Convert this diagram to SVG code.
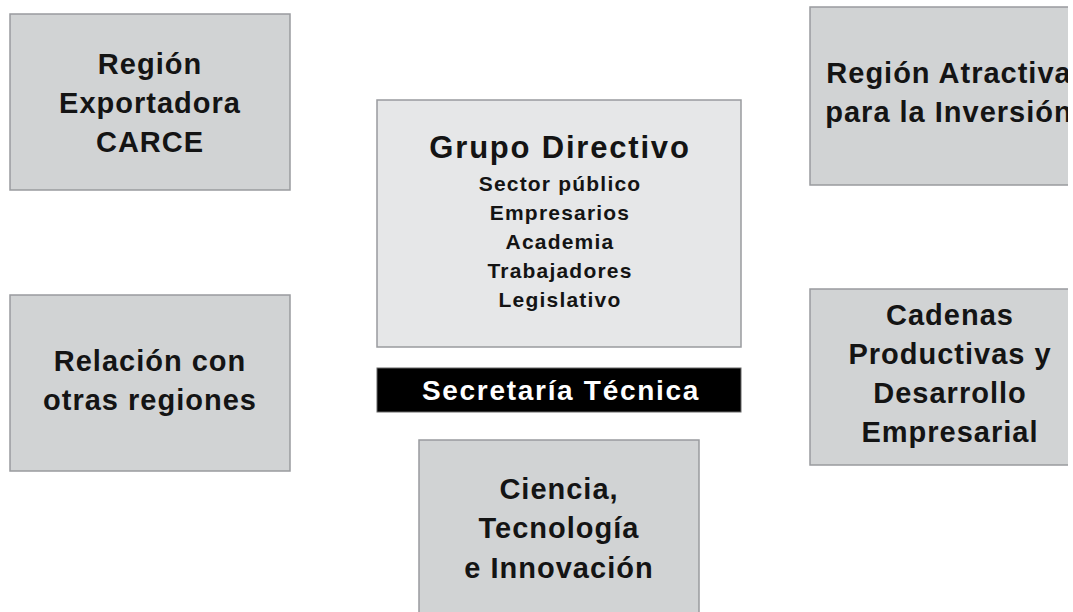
<svg xmlns="http://www.w3.org/2000/svg" width="1073" height="612" viewBox="0 0 1073 612">
<style>
.box{fill:#d1d3d4;stroke:#999b9e;stroke-width:1.5}
.boxl{fill:#e6e7e8;stroke:#999b9e;stroke-width:1.5}
.t{font-family:"Liberation Sans",Arial,sans-serif;font-weight:bold;fill:#141414;text-anchor:middle}
.l{font-size:29px;letter-spacing:1px}
.h{font-size:31px;letter-spacing:1.8px}
.s{font-size:21px;letter-spacing:1.2px}
.w{font-size:28px;letter-spacing:1.7px;fill:#ffffff}
</style>
<defs>
<clipPath id="cut"><rect x="0" y="0" width="1068" height="612"/></clipPath>
</defs>
<rect width="1073" height="612" fill="#ffffff"/>
<g id="connectors"/>
<g id="region-exportadora">
<rect class="box" x="10" y="14" width="280" height="176"/>
<text class="t l" x="150" y="74">Región</text>
<text class="t l" x="150" y="113">Exportadora</text>
<text class="t l" x="150" y="152">CARCE</text>
</g>
<g id="grupo-directivo">
<rect class="boxl" x="377" y="100" width="364" height="247"/>
<text class="t h" x="560" y="158">Grupo Directivo</text>
<text class="t s" x="560" y="191">Sector público</text>
<text class="t s" x="560" y="220">Empresarios</text>
<text class="t s" x="560" y="249">Academia</text>
<text class="t s" x="560" y="278">Trabajadores</text>
<text class="t s" x="560" y="307">Legislativo</text>
</g>
<g id="secretaria-tecnica">
<rect x="377" y="368" width="364" height="44" fill="#000000" stroke="#666" stroke-width="1"/>
<text class="t w" x="561" y="400">Secretaría Técnica</text>
</g>
<g id="region-atractiva" clip-path="url(#cut)">
<rect class="box" x="810" y="7" width="280" height="178"/>
<text class="t l" x="949" y="83">Región Atractiva</text>
<text class="t l" x="949" y="122">para la Inversión</text>
</g>
<g id="relacion-regiones">
<rect class="box" x="10" y="295" width="280" height="176"/>
<text class="t l" x="150" y="371">Relación con</text>
<text class="t l" x="150" y="410">otras regiones</text>
</g>
<g id="cadenas-productivas" clip-path="url(#cut)">
<rect class="box" x="810" y="289" width="280" height="176"/>
<text class="t l" x="950" y="325">Cadenas</text>
<text class="t l" x="950" y="364">Productivas y</text>
<text class="t l" x="950" y="403">Desarrollo</text>
<text class="t l" x="950" y="442">Empresarial</text>
</g>
<g id="ciencia-tecnologia">
<rect class="box" x="419" y="440" width="280" height="190"/>
<text class="t l" x="559" y="499">Ciencia,</text>
<text class="t l" x="559" y="538">Tecnología</text>
<text class="t l" x="559" y="578">e Innovación</text>
</g>
</svg>
